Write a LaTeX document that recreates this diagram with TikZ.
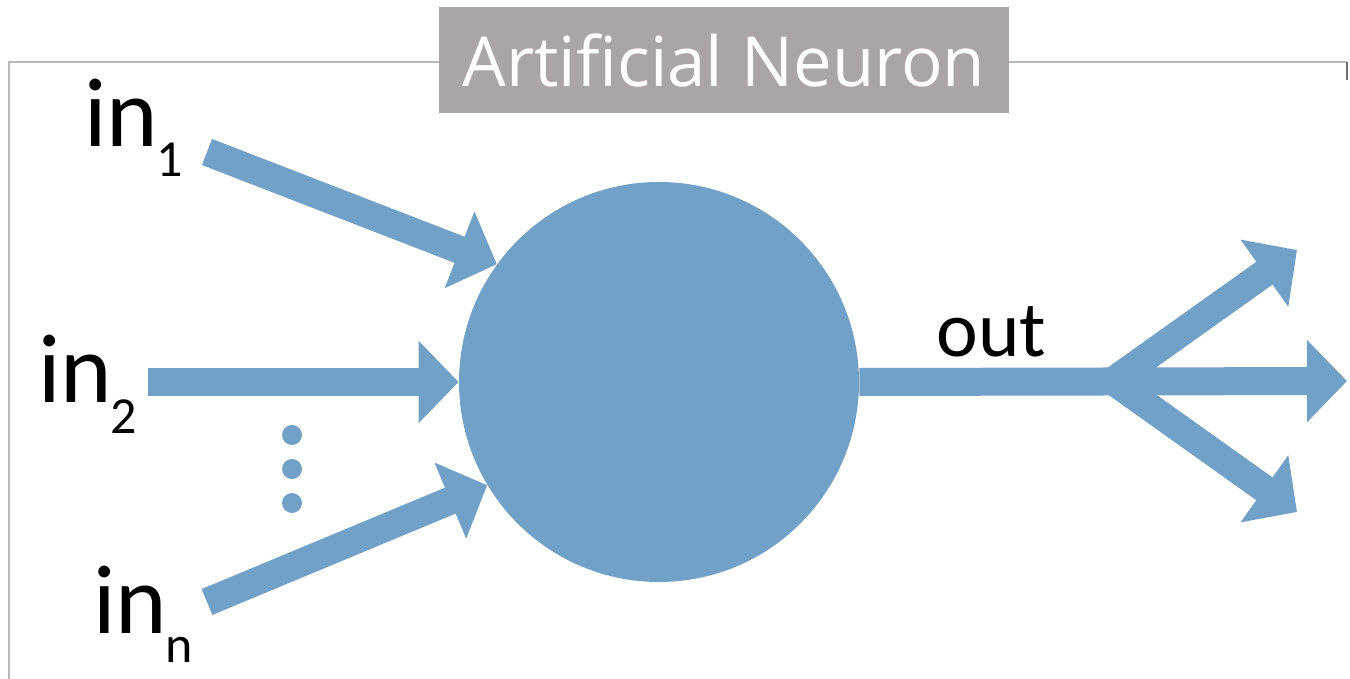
\documentclass[tikz,border=0pt]{standalone}
\usepackage{fontspec}
\setmainfont{Carlito}
\newfontfamily\titlefont{Open Sans}
\usetikzlibrary{arrows.meta}
\definecolor{nblue}{RGB}{114,161,199}
\definecolor{tgray}{RGB}{170,166,166}
\definecolor{framegray}{RGB}{185,185,185}
\begin{document}
\begin{tikzpicture}[x=0.5pt,y=-0.5pt,
  arr/.style={draw=nblue, line width=14pt, -{Triangle[length=20pt,width=40pt]}},
  lbl/.style={anchor=base west, inner sep=0pt, font=\fontsize{49}{50}\selectfont},
  dotnode/.style={circle, fill=nblue, minimum size=10pt, inner sep=0pt},
]
\useasboundingbox (0,0) rectangle (1350,679);
\fill[white] (0,0) rectangle (1350,679);
% frame
\draw[framegray, line width=1pt] (9,679) -- (9,62) -- (1347,62);
\draw[framegray!60!black, line width=1pt] (1347,62) -- (1347,80);
% title
\node[fill=tgray, text=white, font=\titlefont\fontsize{34.5}{40}\selectfont,
      minimum width=285pt, minimum height=53pt, inner sep=0pt] (title) at (724,60) {Artificial Neuron};
% neuron
\node[circle, fill=nblue, minimum size=200pt, inner sep=0pt] (neuron) at (659,382) {};
% inputs
\coordinate (s1) at (207,152);
\coordinate (s2) at (148,382);
\coordinate (sn) at (207,602);
\draw[arr] (s1) -- (neuron.144.6);
\draw[arr] (s2) -- (neuron.180);
\draw[arr] (sn) -- (neuron.211.4);
% dots
\node[dotnode] (d1) at (292,435) {};
\node[dotnode] (d2) at (292,469) {};
\node[dotnode] (d3) at (292,503) {};
% output
\coordinate (j) at (1113,381);
\coordinate (o1) at (1297,250);
\coordinate (o2) at (1347,381);
\coordinate (o3) at (1297,512);
\draw[arr] (neuron.east) -- (o2);
\draw[arr] (j) -- (o1);
\draw[arr] (j) -- (o3);
% labels
\node[lbl] (l1) at (84,147) {in\kern-1pt\raisebox{-15pt}{\fontsize{26}{26}\selectfont 1}};
\node[lbl] (l2) at (38,402) {in\kern-1pt\raisebox{-15.5pt}{\fontsize{26}{26}\selectfont 2}};
\node[lbl] (ln) at (93,633) {in\kern-1pt\raisebox{-14.5pt}{\fontsize{26}{26}\selectfont n}};
\node[anchor=base west, inner sep=0pt, font=\fontsize{39.5}{40}\selectfont] (out) at (936,357) {out};
\end{tikzpicture}
\end{document}
